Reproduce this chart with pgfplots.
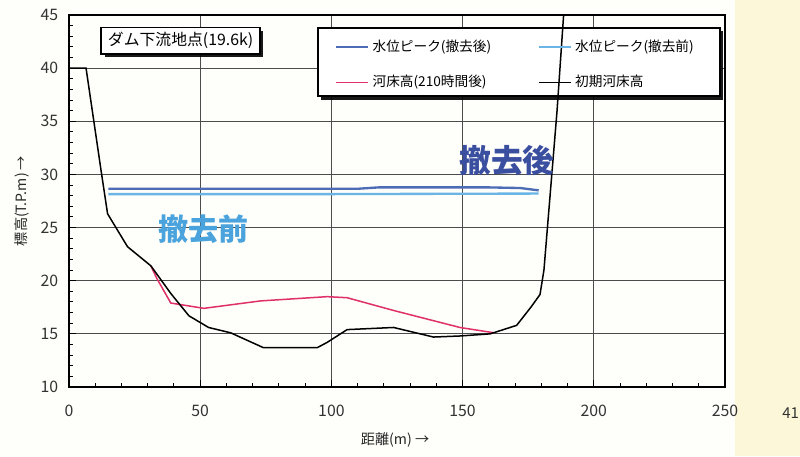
\documentclass[border=0pt]{standalone}
\usepackage{fontspec}
\setmainfont{Noto Sans CJK JP}
\usepackage{pgfplots}
\pgfplotsset{compat=1.18}
\usetikzlibrary{shadows}
\definecolor{bgwhite}{HTML}{FEFEFA}
\definecolor{bgyellow}{HTML}{FBF7D8}
\definecolor{afterblue}{HTML}{4C6DB5}
\definecolor{beforeblue}{HTML}{6AB4E6}
\definecolor{bedred}{HTML}{E0306A}
\definecolor{txtafter}{HTML}{3B4FA0}
\definecolor{txtbefore}{HTML}{4AA3DC}
\begin{document}
\begin{tikzpicture}[x=1pt,y=1pt]
\useasboundingbox (-41.4,-41.4) rectangle (438.6,232.2);
\fill[bgwhite] (-41.4,-41.4) rectangle (438.6,232.2);
\fill[bgyellow] (399.6,-41.4) rectangle (438.6,232.2);
\node[font=\fontsize{9}{10}\selectfont, text=black!80] at (433,-15.6) {41};
\begin{axis}[
  at={(0,0)}, anchor=south west,
  scale only axis, width=393.6pt, height=223.2pt,
  xmin=0, xmax=250, ymin=10, ymax=45,
  xtick={0,50,...,250}, ytick={10,15,...,45},
  minor x tick num=4, minor y tick num=4,
  tick align=inside, tick pos=left,
  major tick length=4pt, minor tick length=2.5pt,
  axis line style={line width=1.2pt},
  every tick/.style={black, line width=0.6pt},
  xmajorgrids, ymajorgrids,
  major grid style={black!70, line width=0.6pt},
  /pgf/number format/assume math mode=true,
  tick label style={font=\fontsize{9.5}{11}\selectfont, text=black!80},
  xticklabel style={yshift=-7pt},
  yticklabel style={xshift=-3pt},
  xlabel={距離(m) →},
  ylabel={標高(T.P.m) →},
  label style={font=\fontsize{8.5}{10}\selectfont, text=black!85},
  xlabel style={at={(axis description cs:0.497,-0.142)}, anchor=center},
  ylabel style={at={(axis description cs:-0.072,0.5)}, anchor=center},
  legend columns=2,
  legend cell align=left,
  legend image code/.code={\draw[#1] (0pt,0pt) -- (19pt,0pt);},
  legend style={at={(axis cs:95,43.8)}, anchor=north west,
    draw=none, fill=none,
    font=\fontsize{8.2}{10}\selectfont,
    inner xsep=10pt, inner ysep=5pt, row sep=9pt,
    /tikz/every even column/.append style={column sep=26pt}},
]
\draw[black, line width=1pt, fill=white,
  drop shadow={shadow xshift=2pt, shadow yshift=-2pt, fill=black, opacity=0.9}]
  (axis cs:94.9,43.78) rectangle (axis cs:248.1,37.35);
\addplot[afterblue, line width=1.4pt] coordinates {
 (15,28.65) (60,28.65) (110,28.65) (118,28.78) (160,28.78) (172,28.72) (179,28.5)};
\addlegendentry{水位ピーク(撤去後)}
\addplot[beforeblue, line width=1.4pt] coordinates {
 (15,28.15) (100,28.15) (179,28.2)};
\addlegendentry{水位ピーク(撤去前)}
\addplot[bedred, line width=0.9pt] coordinates {
 (31.2,21.4) (33.5,20.2) (38.8,17.9) (51.4,17.4) (73,18.1) (98.4,18.5)
 (106,18.4) (123.7,17.2) (149,15.6) (162,15.1)};
\addlegendentry{河床高(210時間後)}
\addplot[black, line width=0.9pt] coordinates {
 (0,40) (6.5,40) (12.2,30.4) (14.7,26.3) (22.3,23.2) (31.2,21.4) (38.8,18.8)
 (45.7,16.7) (53.2,15.6) (61.6,15.1) (74.1,13.7) (94.6,13.7) (98.4,14.2)
 (106,15.4) (123.7,15.6) (138.9,14.7) (149,14.8) (160.5,15.0) (170.6,15.8)
 (176,17.5) (179.5,18.7) (181,21) (184,30) (186,36) (188.5,45)};
\addlegendentry{初期河床高}
\node[draw=black, line width=1pt, fill=white, anchor=north west,
  drop shadow={shadow xshift=2pt, shadow yshift=-2pt, fill=black, opacity=0.9},
  font=\fontsize{9.5}{11}\selectfont, inner xsep=4pt, inner ysep=3pt]
  at (axis cs:12,43.9) {ダム下流地点(19.6k)};
\node[font=\fontsize{19}{22}\bfseries, text=txtafter] at (axis cs:166.9,31.3) {撤去後};
\node[font=\fontsize{18}{21}\bfseries, text=txtbefore] at (axis cs:51.1,24.8) {撤去前};
\end{axis}
\end{tikzpicture}
\end{document}
